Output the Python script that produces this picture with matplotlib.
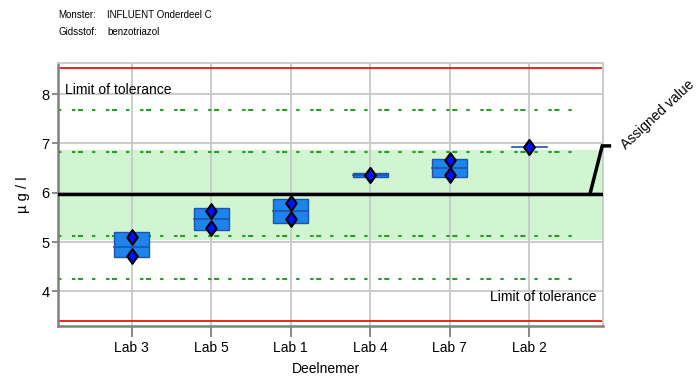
import numpy as np
import matplotlib.pyplot as plt
from matplotlib.path import Path

plt.rcParams['font.family'] = ['Liberation Sans Narrow', 'Liberation Sans', 'DejaVu Sans']
plt.rcParams['lines.scale_dashes'] = False

# gegevens per deelnemer
labs = ["Lab 3", "Lab 5", "Lab 1", "Lab 4", "Lab 7", "Lab 2"]
box_low = [4.69, 5.24, 5.39, 6.31, 6.32, 6.93]
box_high = [5.20, 5.70, 5.88, 6.41, 6.69, 6.93]
box_mid = [4.91, 5.47, 5.64, 6.36, 6.51, 6.93]
meting_1 = [5.11, 5.64, 5.80, 6.36, 6.67, 6.93]
meting_2 = [4.72, 5.28, 5.47, 6.36, 6.36, 6.93]

toegekend = 5.97
sd = 0.855
band = (5.06, 6.87)

fig = plt.figure(figsize=(6.99, 3.78), dpi=100)
ax = fig.add_axes([0.083, 0.1376, 0.7797, 0.6957])

x = np.arange(1, len(labs) + 1)
ax.set_xlim(0.073, 6.93)
ax.set_ylim(3.3, 8.63)

# groene band rond de toegekende waarde
ax.axhspan(band[0], band[1], color='#d0f5d0', zorder=0)

ax.grid(True, color='#c8c8c8', lw=1.3, zorder=1)
ax.set_axisbelow(True)

# stippellijnen op 1 en 2 sd, rode lijnen op 3 sd
patroon = (2.4, 7.7, 2.4, 1.9, 3.6, 6.5)
for k in (-2, -1, 1, 2):
    ax.plot([0.073, 6.64], [toegekend + k * sd] * 2, color='#2a9a2a', lw=1.5,
            dashes=patroon, zorder=2)
for k in (-3, 3):
    ax.axhline(toegekend + k * sd, color='#ee1111', lw=1.3, zorder=2)

ax.axhline(toegekend, color='black', lw=2.5, zorder=3)

# boxen en metingen
w = 0.44
for xi, lo, hi, mid in zip(x, box_low, box_high, box_mid):
    if hi - lo > 0:
        ax.add_patch(plt.Rectangle((xi - w / 2, lo), w, hi - lo, facecolor='#1c84ec',
                                   edgecolor='#1f55a8', lw=1.0, zorder=4))
    ax.plot([xi - w / 2, xi + w / 2], [mid, mid], color='#1f55a8', lw=1.2, zorder=5)

ruit = Path([(0, 1), (0.72, 0), (0, -1), (-0.72, 0), (0, 1)],
            [Path.MOVETO, Path.LINETO, Path.LINETO, Path.LINETO, Path.CLOSEPOLY])
for y in (meting_1, meting_2):
    ax.plot(x, y, marker=ruit, ls='none', color='#0010ff', mec='black', mew=1.5,
            ms=10.5, zorder=6)

ax.text(0.16, 8.08, "Limit of tolerance", fontsize=10, va='center', ha='left')
ax.text(6.85, 3.88, "Limit of tolerance", fontsize=10, va='center', ha='right')

# markering toegekende waarde
ax.plot([6.765, 6.92, 7.01], [toegekend, 6.95, 6.95], color='black', lw=2.5,
        clip_on=False, solid_joinstyle='miter', zorder=3)
ax.text(7.22, 6.88, "Assigned value", fontsize=10, rotation=43,
        rotation_mode='anchor', ha='left', va='baseline')

ax.set_xticks(x)
ax.set_xticklabels(labs, fontsize=10)
ax.set_yticks([4, 5, 6, 7, 8])
ax.tick_params(axis='y', labelsize=10.5, length=4, color='#808080', width=1.3, pad=2)
ax.tick_params(axis='x', length=8, color='#808080', width=1.3, pad=3)

for s in ('left', 'bottom'):
    ax.spines[s].set_color('#808080')
    ax.spines[s].set_linewidth(1.8)
for s in ('top', 'right'):
    ax.spines[s].set_color('#c8c8c8')
    ax.spines[s].set_linewidth(1.3)

ax.set_ylabel("µ g / l", fontsize=10.5, labelpad=8)
ax.set_xlabel("Deelnemer", fontsize=10, va='center')
ax.xaxis.set_label_coords(0.492, -0.163)

fig.text(58 / 699, 1 - 15 / 378, "Monster:", fontsize=7, va='center')
fig.text(107 / 699, 1 - 15 / 378, "INFLUENT Onderdeel C", fontsize=7, va='center')
fig.text(58 / 699, 1 - 32 / 378, "Gidsstof:", fontsize=7, va='center')
fig.text(107 / 699, 1 - 32 / 378, "benzotriazol", fontsize=7, va='center')

fig.savefig("out.png", dpi=100)
